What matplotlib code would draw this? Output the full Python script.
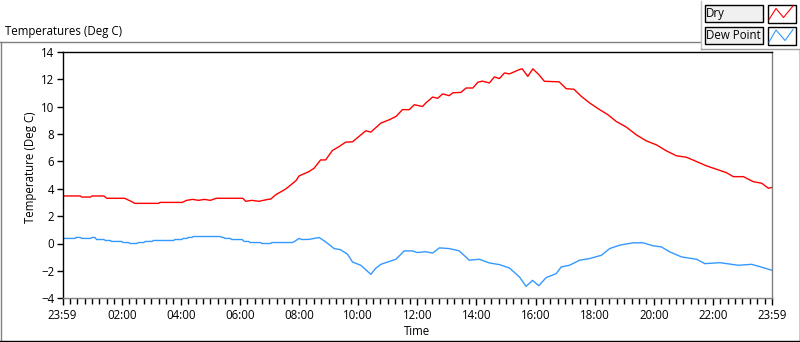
import numpy as np
import matplotlib.pyplot as plt
from matplotlib.patches import Rectangle
from matplotlib.lines import Line2D

plt.rcParams['font.family'] = ['Open Sans', 'DejaVu Sans']

# === Data (hours since 23:59, deg C) ===
dry_h = [0.0, 0.6, 0.65, 0.95, 1.0, 1.4, 1.5, 2.1, 2.3, 2.45, 3.25, 3.3, 4.05, 4.2, 4.4,
         4.6, 4.8, 5.0, 5.2, 6.1, 6.2, 6.4, 6.65, 6.9, 7.05, 7.2, 7.55, 7.65, 7.9, 8.0,
         8.34, 8.51, 8.73, 8.9, 9.13, 9.36, 9.58, 9.81, 10.26, 10.43, 10.77, 11.05, 11.28,
         11.5, 11.73, 11.9, 12.18, 12.29, 12.52, 12.69, 12.86, 13.08, 13.2, 13.48, 13.65,
         13.88, 14.05, 14.2, 14.44, 14.61, 14.78, 14.95, 15.12, 15.46, 15.55, 15.74, 15.91,
         16.11, 16.3, 16.8, 17.04, 17.3, 17.55, 17.83, 18.17, 18.45, 18.73, 19.07, 19.41,
         19.75, 20.09, 20.43, 20.77, 21.1, 21.45, 21.79, 22.12, 22.46, 22.69, 23.03, 23.37,
         23.65, 23.88, 24.0]
dry_t = [3.47, 3.47, 3.39, 3.39, 3.47, 3.47, 3.30, 3.30, 3.10, 2.93, 2.93, 3.0, 3.0, 3.15, 3.22,
         3.15, 3.22, 3.15, 3.30, 3.30, 3.08, 3.15, 3.08, 3.2, 3.25, 3.54, 3.98, 4.15, 4.59, 4.93,
         5.25, 5.49, 6.1, 6.1, 6.79, 7.08, 7.4, 7.42, 8.23, 8.13, 8.79, 9.03, 9.27,
         9.77, 9.77, 10.13, 10.0, 10.26, 10.69, 10.6, 10.92, 10.79, 11.0, 11.03, 11.35,
         11.35, 11.77, 11.85, 11.72, 12.16, 12.04, 12.45, 12.38, 12.7, 12.75, 12.2, 12.75,
         12.33, 11.84, 11.8, 11.3, 11.26, 10.74, 10.26, 9.77, 9.4, 8.91, 8.5, 7.93,
         7.49, 7.2, 6.76, 6.4, 6.3, 5.98, 5.66, 5.42, 5.17, 4.88, 4.88, 4.51,
         4.4, 4.03, 4.1]

dew_h = [0.0, 0.43, 0.45, 0.6, 0.65, 0.95, 1.0, 1.1, 1.15, 1.4, 1.45, 1.62, 1.65, 2.0, 2.05,
         2.24, 2.28, 2.52, 2.56, 2.75, 2.8, 3.03, 3.07, 3.76, 3.8, 4.04, 4.08, 4.21, 4.25,
         4.38, 4.42, 5.34, 5.4, 5.45, 5.5, 5.68, 5.72, 6.08, 6.14, 6.3, 6.34, 6.7, 6.74,
         7.04, 7.08, 7.77, 7.85, 8.0, 8.1, 8.34, 8.68, 8.9, 9.19, 9.4, 9.64, 9.81, 10.09,
         10.43, 10.6, 10.77, 11.0, 11.28, 11.56, 11.84, 12.0, 12.29, 12.52, 12.75, 13.08,
         13.42, 13.76, 14.1, 14.44, 14.78, 15.12, 15.46, 15.68, 15.9, 16.11, 16.36, 16.7,
         16.87, 17.15, 17.49, 17.83, 18.23, 18.51, 18.85, 19.3, 19.64, 19.98, 20.26, 20.54,
         20.94, 21.45, 21.73, 22.24, 22.86, 23.31, 23.7, 24.0]
dew_t = [0.37, 0.37, 0.44, 0.44, 0.37, 0.37, 0.44, 0.44, 0.29, 0.29, 0.22, 0.22, 0.15, 0.15, 0.07,
         0.07, 0.0, 0.0, 0.07, 0.07, 0.15, 0.15, 0.22, 0.22, 0.29, 0.29, 0.37, 0.37, 0.44,
         0.44, 0.51, 0.51, 0.44, 0.44, 0.37, 0.37, 0.29, 0.29, 0.15, 0.15, 0.07, 0.07, 0.0,
         0.0, 0.07, 0.07, 0.15, 0.37, 0.29, 0.3, 0.44, 0.12, -0.37, -0.45, -0.78, -1.35, -1.59,
         -2.25, -1.8, -1.52, -1.35, -1.15, -0.54, -0.54, -0.66, -0.6, -0.7, -0.32, -0.37,
         -0.54, -1.22, -1.15, -1.42, -1.54, -1.79, -2.45, -3.13, -2.69, -3.08, -2.49, -2.2,
         -1.71, -1.59, -1.22, -1.1, -0.86, -0.37, -0.12, 0.05, 0.05, -0.17, -0.25, -0.61,
         -0.98, -1.15, -1.47, -1.4, -1.59, -1.52, -1.76, -1.96]

xtick_pos = list(range(0, 25, 2))
xtick_lab = ["23:59", "02:00", "04:00", "06:00", "08:00", "10:00", "12:00",
             "14:00", "16:00", "18:00", "20:00", "22:00", "23:59"]
series_names = ["Dry", "Dew Point"]

RED = "#ff0000"
BLUE = "#3399ff"
GRAY = "#808080"
FS = 8.3

W, H = 800, 342
fig = plt.figure(figsize=(W / 100, H / 100), dpi=100)


def fx(px):
    return px / W


def fy(py):
    return 1 - py / H


ax = fig.add_axes([fx(62.5), fy(298.3), fx(772) - fx(62.5), fy(51.7) - fy(298.3)])
ax.plot(dry_h, dry_t, color=RED, lw=1.0)
ax.plot(dew_h, dew_t, color=BLUE, lw=1.0)

ax.set_xlim(0, 24)
ax.set_ylim(-4, 14)
ax.set_yticks(np.arange(-4, 15, 2))
ax.set_xticks(xtick_pos)
ax.set_xticklabels(xtick_lab)
ax.set_xticks(np.arange(0, 24.01, 0.25), minor=True)
ax.tick_params(axis='both', which='major', labelsize=FS, length=4, width=1, color='black', pad=2)
ax.tick_params(axis='x', which='major', length=5, pad=3)
ax.tick_params(axis='x', which='minor', length=4, width=1, color='black')
ax.tick_params(axis='y', which='minor', left=False)
ax.spines['left'].set_color('black')
ax.spines['top'].set_color('black')
ax.spines['right'].set_color(GRAY)
ax.spines['bottom'].set_color(GRAY)
for s in ax.spines.values():
    s.set_linewidth(1.0)
ax.set_ylabel("Temperature (Deg C)", fontsize=FS)
ax.yaxis.set_label_coords(-0.0365, 0.53)
ax.set_xlabel("Time", fontsize=FS, labelpad=2)

# === Outer panel frame and caption ===
fig.add_artist(Line2D([fx(0), fx(700)], [fy(42), fy(42)], color=GRAY, lw=1.0))
fig.add_artist(Line2D([fx(0.5), fx(0.5)], [fy(42), fy(342)], color=GRAY, lw=1.0))
fig.add_artist(Line2D([fx(0), fx(800)], [fy(341), fy(341)], color='black', lw=1.0))
fig.add_artist(Line2D([fx(799.5), fx(799.5)], [fy(49), fy(342)], color='black', lw=1.0))
fig.text(fx(5), fy(32), "Temperatures (Deg C)", fontsize=FS, va='center', ha='left')

# === Plot legend (LabVIEW style) ===
fig.add_artist(Line2D([fx(701), fx(701)], [fy(1), fy(49)], color='#c0c0c0', lw=1.0))
fig.add_artist(Line2D([fx(701), fx(800)], [fy(49), fy(49)], color='#a0a0a0', lw=1.0))
rows = [(4.5, 21.5), (27.5, 43.5)]
icons = [(RED, [769, 776, 783.5, 793], [19.5, 8.5, 17.5, 6]),
         (BLUE, [769, 776, 785, 793], [42, 30, 40.5, 29.5])]
for name, (y0, y1), (col, ix, iy) in zip(series_names, rows, icons):
    fig.add_artist(Rectangle((fx(704.5), fy(y1)), fx(762.5) - fx(704.5), fy(y0) - fy(y1),
                             facecolor='#f0f0f0', edgecolor='black', lw=1.0))
    fig.text(fx(706), fy((y0 + y1) / 2), name, fontsize=FS, va='center', ha='left')
    fig.add_artist(Rectangle((fx(767.5), fy(y1 + 1)), fx(795.5) - fx(767.5), fy(y0) - fy(y1 + 1),
                             facecolor='white', edgecolor='black', lw=1.0))
    fig.add_artist(Line2D([fx(v) for v in ix], [fy(v) for v in iy], color=col, lw=0.8))

fig.savefig("out.png", dpi=100)
